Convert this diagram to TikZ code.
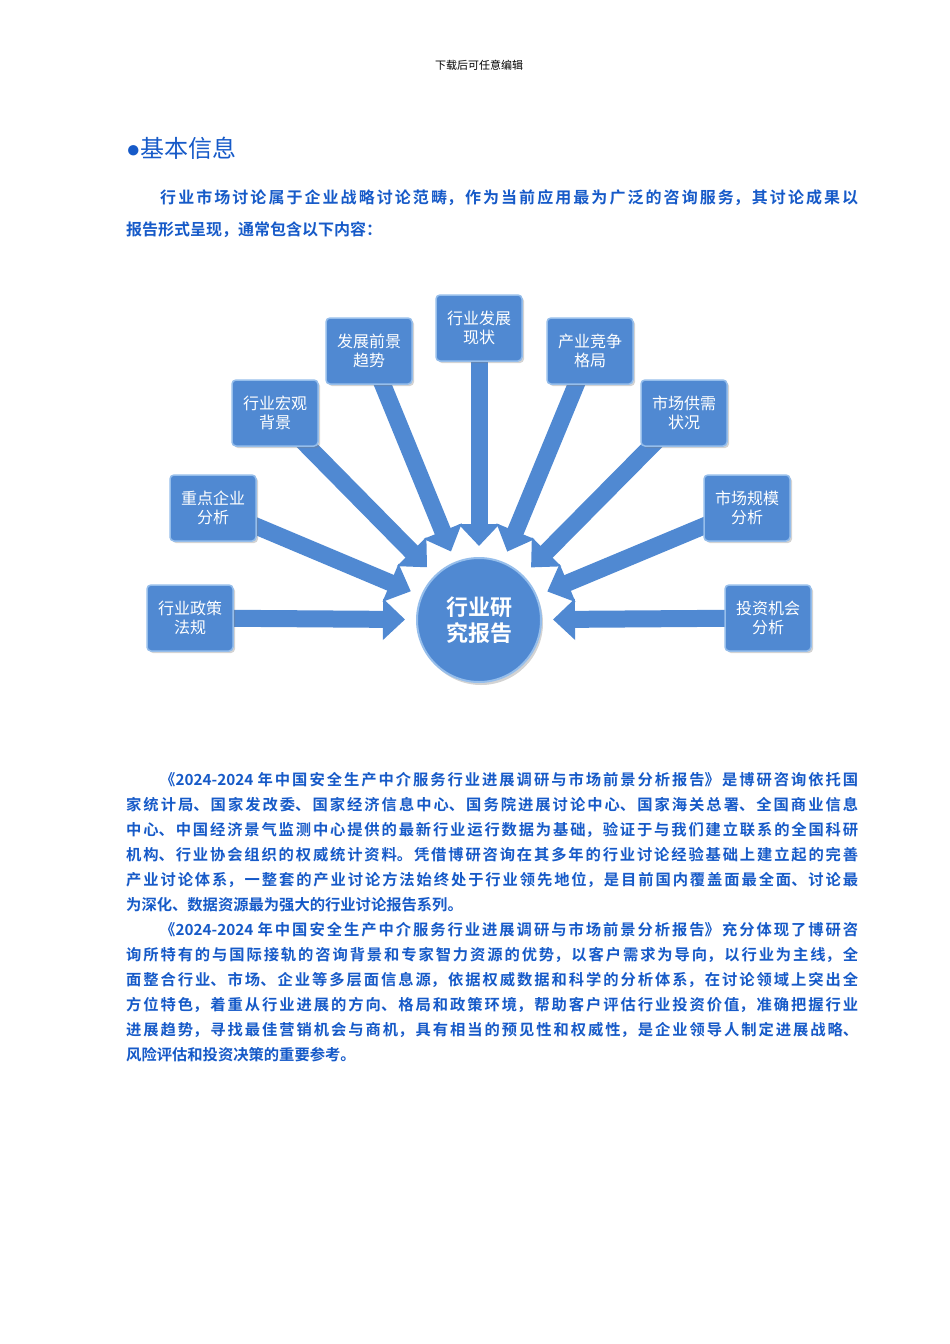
\documentclass[tikz,border=0pt]{standalone}
\usepackage{fontspec}
\setmainfont{Liberation Sans}
\newfontfamily\cjk{Noto Sans CJK SC}
\newfontfamily\cjkb{Noto Sans CJK SC Bold}
\usetikzlibrary{arrows.meta,calc,shadows}
\definecolor{bodyblue}{RGB}{22,90,200}
\definecolor{boxblue}{RGB}{80,137,210}
\definecolor{boxedge}{RGB}{150,190,235}
\newcommand{\jl}[2]{\parbox{#1pt}{\XeTeXlinebreaklocale "zh"\XeTeXlinebreakskip=0pt plus 4pt\parfillskip=0pt\relax #2}}
\begin{document}
\begin{tikzpicture}[x=1pt,y=-1pt,
  boxn/.style={draw=boxedge,line width=1.5pt,fill=boxblue,rounded corners=4pt,minimum width=86pt,minimum height=66pt,
    text=white,font=\cjk\fontsize{16}{19}\selectfont,align=center,drop shadow={shadow xshift=2pt,shadow yshift=-2pt,opacity=0.35}},
  arr/.style={draw=boxblue,line width=17pt,-{Triangle[width=40pt,length=22pt]}},
  txt/.style={anchor=west,inner sep=0pt,text=bodyblue,font=\cjkb\fontsize{16}{20}\selectfont},
  ptxt/.style={anchor=west,inner sep=0pt,text=bodyblue,font=\cjkb\fontsize{15.3}{20}\selectfont}]
\useasboundingbox (0,0) rectangle (950,1344);
\node (hdr) at (479,65) {\cjk\fontsize{11}{13}\selectfont 下载后可任意编辑};
\node[anchor=west,inner sep=0pt,text=bodyblue] (h1) at (126,148) {\fontsize{24}{28}\selectfont ●\cjk 基本信息};
\node[txt] (p1a) at (160,198) {\jl{698}{行业市场讨论属于企业战略讨论范畴，作为当前应用最为广泛的咨询服务，其讨论成果以}};
\node[txt] (p1b) at (126,230) {报告形式呈现，通常包含以下内容：};

\node[circle,draw=boxedge,line width=2pt,fill=boxblue,minimum size=124pt,text=white,align=center,
  font=\cjkb\fontsize{22}{26}\selectfont,drop shadow={shadow xshift=2pt,shadow yshift=-3pt,opacity=0.35}] (c) at (479,620) {行业研\\究报告};
\foreach \n/\x/\y in {b1/190/618, b2/213/508, b3/275/413, b4/369/351, b5/479/328, b6/590/351,
  b7/684/413, b8/747/508, b9/768/618}{
  \coordinate (\n) at (\x,\y);
  \coordinate (e\n) at ($(c)!74pt!(\n)$);
  \draw[arr] (\n) -- (e\n);
}
\foreach \n/\x/\y/\t in {b1/190/618/行业政策\\法规, b2/213/508/重点企业\\分析, b3/275/413/行业宏观\\背景,
  b4/369/351/发展前景\\趋势, b5/479/328/行业发展\\现状, b6/590/351/产业竞争\\格局,
  b7/684/413/市场供需\\状况, b8/747/508/市场规模\\分析, b9/768/618/投资机会\\分析}{
  \node[boxn] (n\n) at (\n) {\t};
}

\node[ptxt] (q1) at (160,780) {\jl{698}{《2024-2024 年中国安全生产中介服务行业进展调研与市场前景分析报告》是博研咨询依托国}};
\node[ptxt] (q2) at (126,805) {\jl{732}{家统计局、国家发改委、国家经济信息中心、国务院进展讨论中心、国家海关总署、全国商业信息}};
\node[ptxt] (q3) at (126,830) {\jl{732}{中心、中国经济景气监测中心提供的最新行业运行数据为基础，验证于与我们建立联系的全国科研}};
\node[ptxt] (q4) at (126,855) {\jl{732}{机构、行业协会组织的权威统计资料。凭借博研咨询在其多年的行业讨论经验基础上建立起的完善}};
\node[ptxt] (q5) at (126,880) {\jl{732}{产业讨论体系，一整套的产业讨论方法始终处于行业领先地位，是目前国内覆盖面最全面、讨论最}};
\node[ptxt] (q6) at (126,905) {为深化、数据资源最为强大的行业讨论报告系列。};
\node[ptxt] (r1) at (160,930) {\jl{698}{《2024-2024 年中国安全生产中介服务行业进展调研与市场前景分析报告》充分体现了博研咨}};
\node[ptxt] (r2) at (126,955) {\jl{732}{询所特有的与国际接轨的咨询背景和专家智力资源的优势，以客户需求为导向，以行业为主线，全}};
\node[ptxt] (r3) at (126,980) {\jl{732}{面整合行业、市场、企业等多层面信息源，依据权威数据和科学的分析体系，在讨论领域上突出全}};
\node[ptxt] (r4) at (126,1005) {\jl{732}{方位特色，着重从行业进展的方向、格局和政策环境，帮助客户评估行业投资价值，准确把握行业}};
\node[ptxt] (r5) at (126,1030) {\jl{732}{进展趋势，寻找最佳营销机会与商机，具有相当的预见性和权威性，是企业领导人制定进展战略、}};
\node[ptxt] (r6) at (126,1055) {风险评估和投资决策的重要参考。};
\end{tikzpicture}
\end{document}
